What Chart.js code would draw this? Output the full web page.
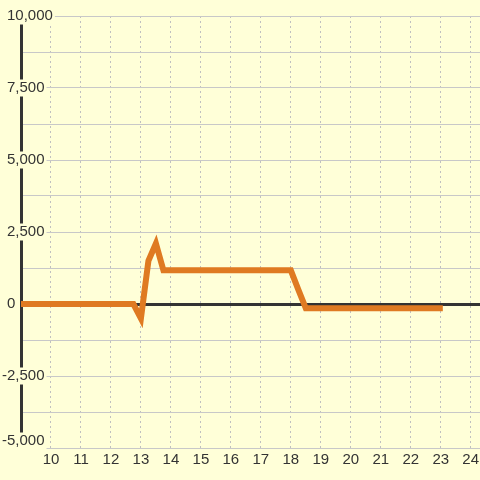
<!DOCTYPE html>
<html>
<head>
<meta charset="utf-8">
<script src="https://cdn.jsdelivr.net/npm/chart.js@4/dist/chart.umd.min.js"></script>
<style>
  html, body { margin: 0; padding: 0; background: #ffffd8; }
  canvas { display: block; }
</style>
</head>
<body>
<canvas id="c" width="480" height="480"></canvas>
<script>
// ---- data ----
const xValues = [9, 12.75, 13, 13.25, 13.5, 13.75, 18, 18.25, 18.5, 23.07];
const yValues = [0, 0, -500, 1500, 2100, 1170, 1170, 500, -150, -150];
const xTickValues = [10, 11, 12, 13, 14, 15, 16, 17, 18, 19, 20, 21, 22, 23, 24];
const xTickLabels = ['10', '11', '12', '13', '14', '15', '16', '17', '18', '19', '20', '21', '22', '23', '24'];
const yTickValues = [0, 2500, 5000, 7500, 10000];
const yTickLabels = ['0', '2,500', '5,000', '7,500', '10,000'];
const yNegValue = -2500;
const yNegLabel = '-2,500';
const yBottomValue = -5000;
const yBottomLabel = '-5,000';

const BG = '#ffffd8';
const GRID = '#c8c8c8';
const DASH = '#c0c0c0';
const DARK = '#333333';

Chart.defaults.font.family = "'Liberation Sans', Arial, sans-serif";
Chart.defaults.font.size = 15;
Chart.defaults.color = DARK;

const points = xValues.map((x, i) => ({ x: x, y: yValues[i] }));

const yTickFont = { size: 15, lineHeight: 1 };
const backdropPad = { top: 1, bottom: 1, left: 2, right: 2 };
const hidden = 'rgba(0,0,0,0)';

function labelAxis(step, pad, offset, value, label) {
  return {
    type: 'linear',
    position: 'left',
    min: -5000,
    max: 10000,
    border: { display: false },
    grid: { color: hidden, drawTicks: true, tickLength: -2 * pad, tickColor: hidden },
    ticks: {
      stepSize: step,
      mirror: true,
      padding: pad,
      labelOffset: offset,
      crossAlign: 'near',
      autoSkip: false,
      color: DARK,
      font: yTickFont,
      showLabelBackdrop: (ctx) => ctx.tick.value === value,
      backdropColor: BG,
      backdropPadding: backdropPad,
      callback: (v) => (v === value ? label : '')
    }
  };
}

new Chart(document.getElementById('c'), {
  type: 'line',
  data: {
    datasets: [{
      data: points,
      yAxisID: 'y',
      borderColor: '#df7a22',
      borderWidth: 6,
      pointRadius: 0,
      pointHoverRadius: 0,
      tension: 0,
      fill: false
    }]
  },
  options: {
    responsive: false,
    animation: false,
    events: [],
    layout: { padding: { left: 21, right: 0, top: 16, bottom: 8 } },
    plugins: { legend: { display: false }, tooltip: { enabled: false } },
    scales: {
      x: {
        type: 'linear',
        min: 9,
        max: 24.31,
        border: { display: false, dash: [2, 3] },
        grid: {
          color: DASH,
          lineWidth: 1,
          drawTicks: false
        },
        ticks: {
          stepSize: 1,
          includeBounds: false,
          padding: 0,
          maxRotation: 0,
          autoSkip: false,
          color: DARK,
          font: { size: 15, lineHeight: 1.6 },
          callback: (v) => {
            const i = xTickValues.indexOf(v);
            return i >= 0 ? xTickLabels[i] : '';
          }
        }
      },
      y: {
        type: 'linear',
        position: 'left',
        min: -5000,
        max: 10000,
        border: { display: true, color: DARK, width: 3 },
        grid: {
          color: (ctx) => (ctx.tick && ctx.tick.value === 0 ? DARK : GRID),
          lineWidth: (ctx) => (ctx.tick && ctx.tick.value === 0 ? 3 : 1),
          drawTicks: true,
          tickLength: 28,
          tickColor: hidden
        },
        ticks: {
          stepSize: 1250,
          mirror: true,
          padding: -14,
          crossAlign: 'near',
          autoSkip: false,
          color: DARK,
          font: yTickFont,
          showLabelBackdrop: (ctx) => yTickValues.includes(ctx.tick.value),
          backdropColor: BG,
          backdropPadding: backdropPad,
          callback: (v) => {
            const i = yTickValues.indexOf(v);
            return i >= 0 ? yTickLabels[i] : '';
          }
        }
      },
      yNeg: labelAxis(2500, -19, 0, yNegValue, yNegLabel),
      yBottom: labelAxis(15000, -19, -7, yBottomValue, yBottomLabel)
    }
  }
});
</script>
</body>
</html>
